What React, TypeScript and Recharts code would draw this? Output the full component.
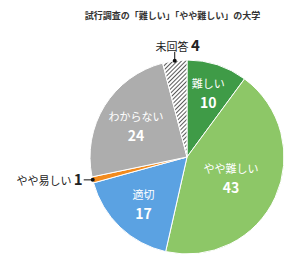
import { PieChart, Pie, Cell } from "recharts";

// 試行調査の「難しい」「やや難しい」の大学 — answer counts
const CATEGORIES = ["難しい", "やや難しい", "適切", "やや易しい", "わからない", "未回答"];
const VALUES = [10, 43, 17, 1, 24, 4];

const COLORS = ["#3F9B47", "#8DC767", "#5BA2E2", "#F28B1E", "#ADADAD", "url(#hatch)"];
// how far inside labels sit, as a share of the radius (0 = outside label)
const LABEL_R = [0.7, 0.5, 0.65, 0, 0.62, 0];

const FONT = "'Noto Sans CJK JP', 'Noto Sans', sans-serif";
const RAD = Math.PI / 180;

const data = CATEGORIES.map((name, i) => ({ name, value: VALUES[i] }));

function renderLabel(props: any) {
  const { cx, cy, midAngle, outerRadius, index, name, value } = props;
  const cos = Math.cos(midAngle * RAD);
  const sin = Math.sin(midAngle * RAD);
  const ex = cx + outerRadius * cos;
  const ey = cy - outerRadius * sin;

  if (index === 5) {
    // 未回答: label above the slice
    return (
      <g>
        <line x1={ex} y1={ey} x2={ex} y2={ey - 9} stroke="#111" strokeWidth={1} />
        <circle cx={ex} cy={ey} r={2} fill="#111" />
        <text x={ex + 3} y={ey - 10} textAnchor="middle" fontFamily={FONT}>
          <tspan fontSize={11} fill="#222">{name} </tspan>
          <tspan fontSize={15} fontWeight="bold" fill="#222">{value}</tspan>
        </text>
      </g>
    );
  }
  if (index === 3) {
    // やや易しい: label to the left
    return (
      <g>
        <line x1={ex} y1={ey} x2={ex - 9} y2={ey} stroke="#111" strokeWidth={1} />
        <circle cx={ex} cy={ey} r={2} fill="#111" />
        <text x={ex - 10} y={ey + 5} textAnchor="end" fontFamily={FONT}>
          <tspan fontSize={11} fill="#222">{name} </tspan>
          <tspan fontSize={15} fontWeight="bold" fill="#222">{value}</tspan>
        </text>
      </g>
    );
  }
  const r = outerRadius * LABEL_R[index];
  const x = cx + r * cos;
  const y = cy - r * sin;
  return (
    <text x={x} y={y - 4} textAnchor="middle" fontFamily={FONT} fill="#fff">
      <tspan x={x} fontSize={11}>{name}</tspan>
      <tspan x={x} dy={20} fontSize={14} fontWeight="bold">{value}</tspan>
    </text>
  );
}

export default function App() {
  return (
    <div style={{ width: 300, height: 256, background: "#fff", position: "relative" }}>
      <style>{"body{margin:0}"}</style>
      <div
        style={{
          position: "absolute",
          top: 9,
          left: 0,
          width: 345,
          textAlign: "center",
          fontFamily: FONT,
          fontSize: 9,
          fontWeight: "bold",
          color: "#333",
        }}
      >
        試行調査の「難しい」「やや難しい」の大学
      </div>
      <PieChart width={300} height={256}>
        <defs>
          <pattern id="hatch" width={3} height={3} patternUnits="userSpaceOnUse" patternTransform="rotate(45)">
            <rect width={3} height={3} fill="#fff" />
            <line x1={0} y1={0} x2={0} y2={3} stroke="#222" strokeWidth={1.5} />
          </pattern>
        </defs>
        <Pie
          data={data}
          dataKey="value"
          nameKey="name"
          cx={182}
          cy={152}
          outerRadius={97}
          startAngle={90}
          endAngle={-270}
          stroke="#fff"
          strokeWidth={1}
          label={renderLabel}
          labelLine={false}
          isAnimationActive={false}
        >
          {data.map((d, i) => (
            <Cell key={d.name} fill={COLORS[i]} />
          ))}
        </Pie>
      </PieChart>
    </div>
  );
}
